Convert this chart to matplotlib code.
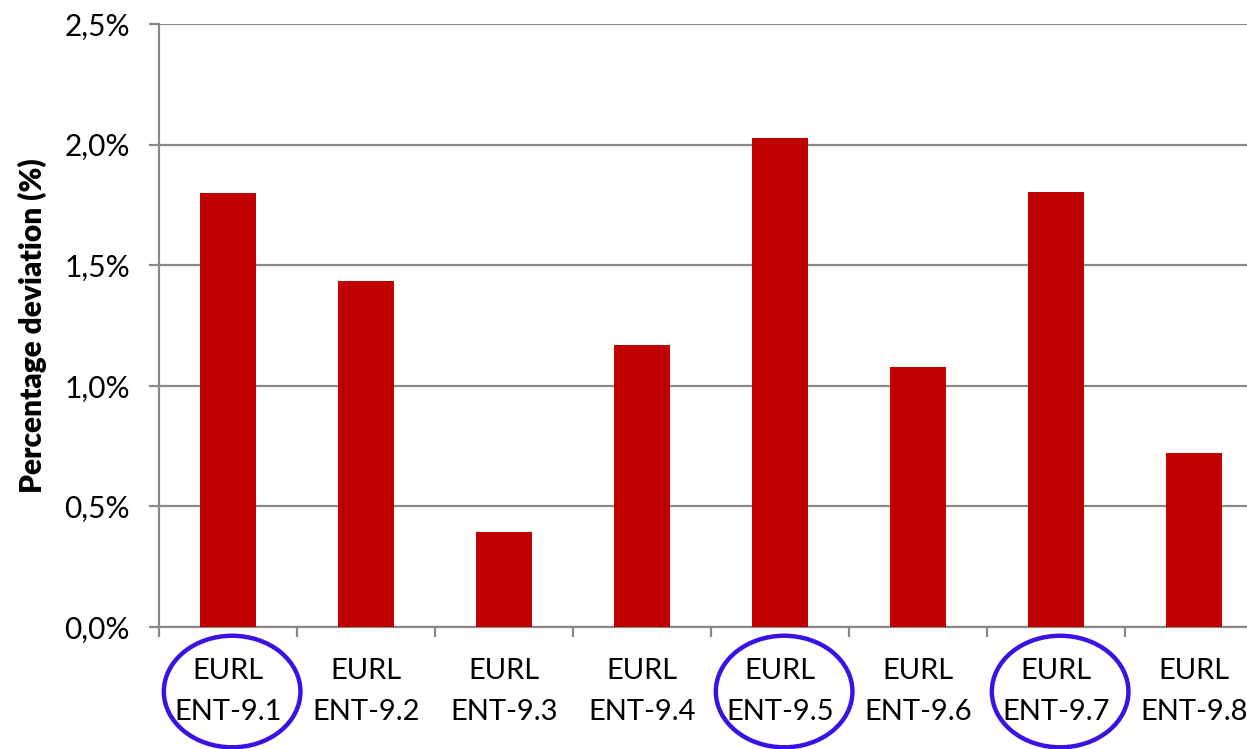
import matplotlib
matplotlib.use("Agg")
import matplotlib.pyplot as plt
import matplotlib.transforms as mtransforms
from matplotlib.patches import Ellipse
from matplotlib.ticker import FuncFormatter, FixedLocator
import numpy as np

plt.rcParams['font.family'] = ['Lato', 'DejaVu Sans']

samples = ['EURL\nENT-9.1', 'EURL\nENT-9.2', 'EURL\nENT-9.3', 'EURL\nENT-9.4',
           'EURL\nENT-9.5', 'EURL\nENT-9.6', 'EURL\nENT-9.7', 'EURL\nENT-9.8']
deviation = [1.80, 1.434, 0.395, 1.168, 2.027, 1.077, 1.805, 0.720]
circled = [0, 4, 6]

grey = '#898989'
bar_red = '#c00000'
ring_blue = '#3a12e6'

W, H = 1247, 749
fig = plt.figure(figsize=(W / 100, H / 100), dpi=100)
# plot area runs past the right edge, the last category is cut off
left, right, top, bottom = 159, 1263, 24, 627
ax = fig.add_axes([left / W, (H - bottom) / H, (right - left) / W, (bottom - top) / H])

x = np.arange(len(samples))
ax.bar(x, deviation, width=0.4, color=bar_red, zorder=3)

ax.set_xlim(-0.5, len(samples) - 0.5)
ax.set_ylim(0, 2.5)
ax.set_yticks(np.arange(0, 2.51, 0.5))
ax.yaxis.set_major_formatter(FuncFormatter(lambda v, p: f'{v:.1f}%'.replace('.', ',')))
ax.grid(axis='y', color=grey, linewidth=1.6, zorder=0)

ax.set_xticks(x)
ax.set_xticklabels(samples, fontsize=21, linespacing=1.75)
ax.xaxis.set_minor_locator(FixedLocator(x - 0.5))
ax.tick_params(axis='x', which='major', length=0, pad=22)
ax.tick_params(axis='x', which='minor', length=7, width=1.6, color=grey, direction='out')
ax.tick_params(axis='y', length=7, width=1.6, color=grey, labelsize=21.5, pad=14)

for s in ['top', 'right']:
    ax.spines[s].set_visible(False)
for s in ['left', 'bottom']:
    ax.spines[s].set_color(grey)
    ax.spines[s].set_linewidth(1.6)

ax.set_ylabel('Percentage deviation (%)', fontsize=21.5, fontweight='heavy', labelpad=12)

# rings around the highlighted sample labels
trans = mtransforms.blended_transform_factory(ax.transData, ax.transAxes)
for i in circled:
    e = Ellipse((i + 0.03, -0.107), width=0.99, height=0.185, transform=trans,
                fill=False, edgecolor=ring_blue, linewidth=3.2, clip_on=False, zorder=5)
    ax.add_patch(e)

fig.savefig('out.png', dpi=100)
